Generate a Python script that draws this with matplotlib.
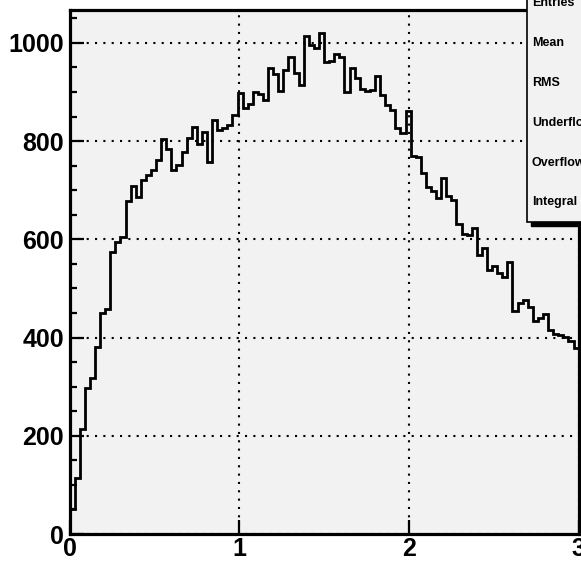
import numpy as np
import matplotlib
matplotlib.use("Agg")
import matplotlib.pyplot as plt
from matplotlib.patches import Rectangle
from matplotlib.ticker import MultipleLocator

# histogram: 100 bins between 0 and 3
x_min, x_max, n_bins = 0.0, 3.0, 100
counts = [
    50, 115, 213, 298, 317, 381, 449, 459, 574, 595,
    605, 679, 708, 686, 720, 730, 742, 762, 805, 784,
    742, 752, 777, 807, 829, 795, 819, 758, 842, 822,
    826, 832, 854, 898, 868, 875, 901, 896, 883, 948,
    936, 902, 945, 972, 938, 914, 1015, 996, 990, 1020,
    961, 964, 977, 972, 899, 949, 928, 906, 903, 904,
    933, 894, 874, 863, 827, 816, 861, 770, 768, 735,
    707, 699, 684, 725, 688, 681, 632, 611, 609, 623,
    569, 582, 538, 545, 531, 523, 553, 455, 470, 477,
    463, 433, 440, 448, 415, 408, 406, 401, 392, 379,
]
y_max = 1068
x_ticks = [0, 1, 2, 3]
y_ticks = [0, 200, 400, 600, 800, 1000]
stat_labels = ["Entries", "Mean", "RMS", "Underflow", "Overflow", "Integral"]

plt.rcParams["font.family"] = ["Liberation Sans", "DejaVu Sans"]
plt.rcParams["font.weight"] = "bold"

W, H = 581, 563
fig = plt.figure(figsize=(W / 100, H / 100), dpi=100)
fig.patch.set_facecolor("white")

ax_l, ax_r, ax_b, ax_t = 69.5, 578.6, 534.0, 9.5  # pixel positions (from top)
ax = fig.add_axes([ax_l / W, (H - ax_b) / H, (ax_r - ax_l) / W, (ax_b - ax_t) / H])
ax.set_facecolor("#f2f2f2")

edges = np.linspace(x_min, x_max, n_bins + 1)
ax.stairs(counts, edges, color="black", linewidth=2.0, zorder=3)

ax.set_xlim(x_min, x_max)
ax.set_ylim(0, y_max)
ax.set_xticks(x_ticks)
ax.set_yticks(y_ticks)
ax.yaxis.set_minor_locator(MultipleLocator(50))

ax.grid(True, which="major", color="black", linestyle=(0, (1, 3)), linewidth=1.5, zorder=1)
for s in ax.spines.values():
    s.set_linewidth(2.3)
    s.set_zorder(4)

ax.tick_params(axis="both", which="major", direction="in", length=10, width=1.6,
               labelsize=18, pad=4)
ax.tick_params(axis="y", which="minor", direction="in", length=5, width=1.6)
ax.tick_params(axis="x", which="major", pad=2)
for lab in ax.get_xticklabels() + ax.get_yticklabels():
    lab.set_fontweight("bold")

# stats box (cut off on the right of the canvas)
bx_l, bx_b = 527.0, 221.5
shadow = Rectangle(((bx_l + 4) / W, (H - bx_b - 4) / H), 0.3, 0.5,
                   transform=fig.transFigure, facecolor="black", edgecolor="black",
                   zorder=10, clip_on=False)
box = Rectangle((bx_l / W, (H - bx_b) / H), 0.3, 0.5,
                transform=fig.transFigure, facecolor="#f2f2f2", edgecolor="black",
                linewidth=1.2, zorder=11, clip_on=False)
fig.add_artist(shadow)
fig.add_artist(box)

label_y = [3.3, 43.3, 83.3, 123.3, 163.3, 201.7]
for lab, yy in zip(stat_labels, label_y):
    fig.text(532 / W, 1 - yy / H, lab, fontsize=9, fontweight="bold",
             ha="left", va="center", zorder=12)

fig.savefig("out.png", dpi=100)
